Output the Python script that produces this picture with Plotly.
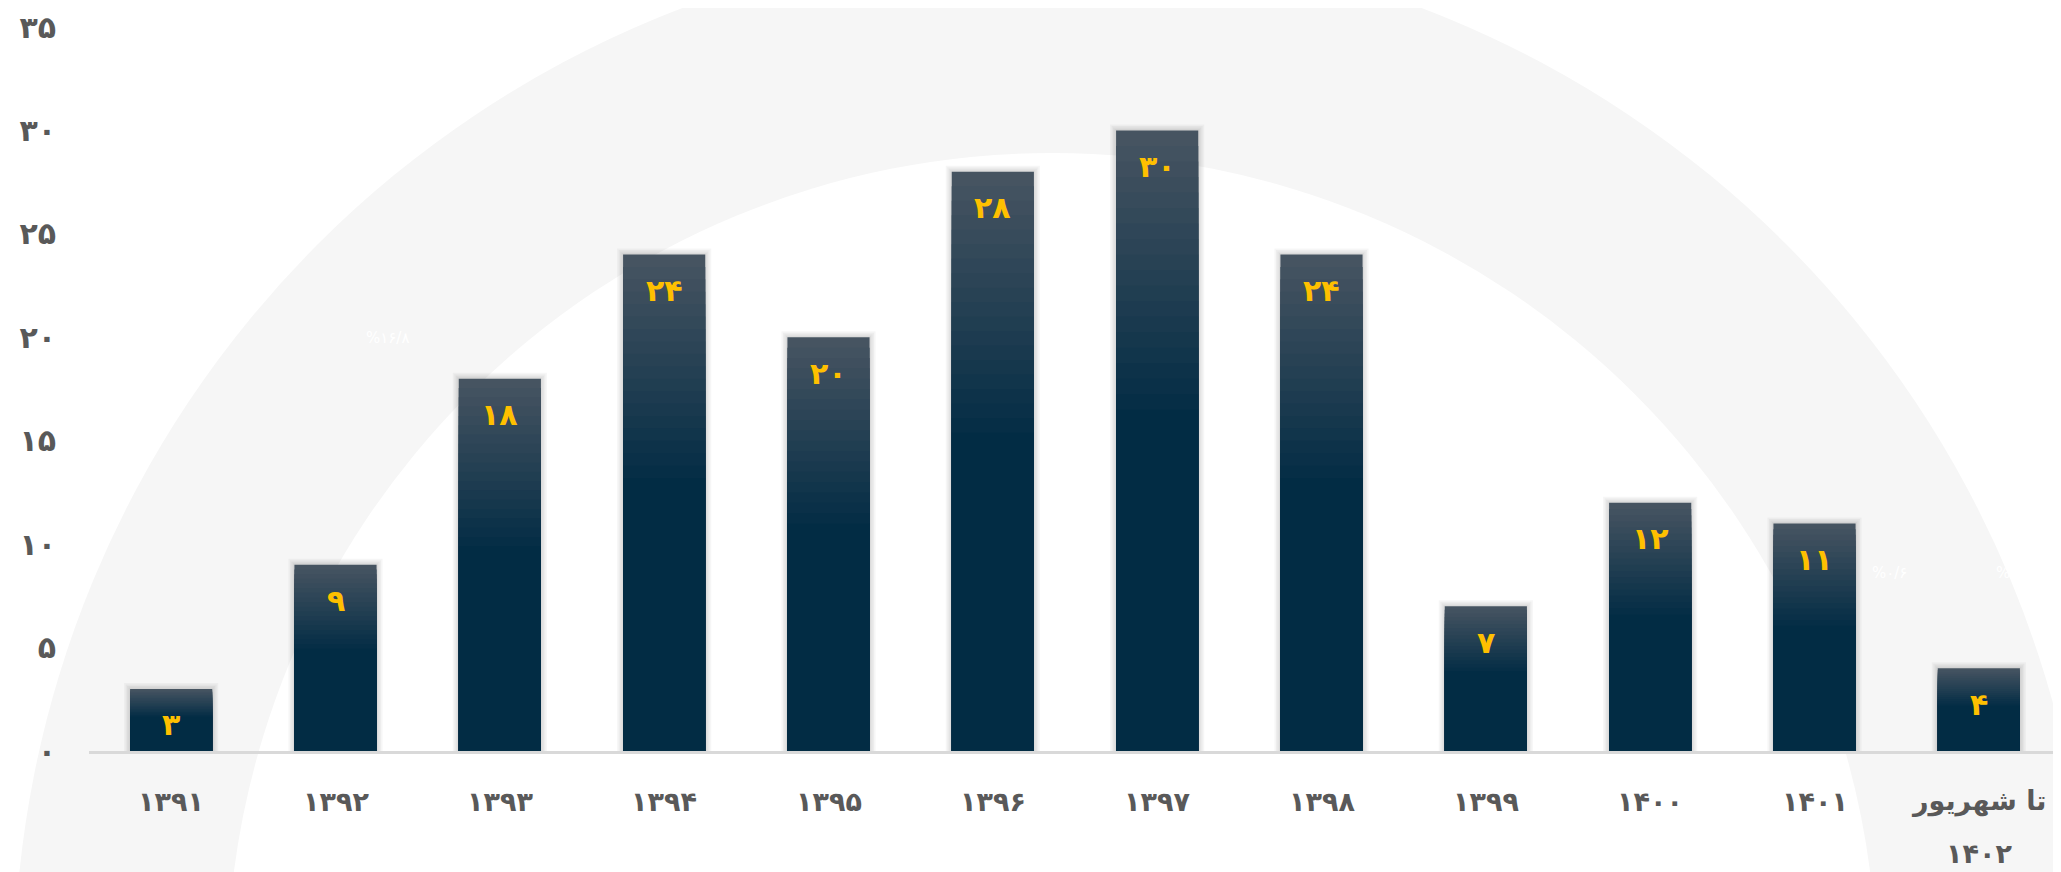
import plotly.graph_objects as go

# data
years = ["۱۳۹۱", "۱۳۹۲", "۱۳۹۳", "۱۳۹۴", "۱۳۹۵", "۱۳۹۶",
         "۱۳۹۷", "۱۳۹۸", "۱۳۹۹", "۱۴۰۰", "۱۴۰۱", "تا شهریور\n۱۴۰۲"]
counts = [3, 9, 18, 24, 20, 28, 30, 24, 7, 12, 11, 4]
y_ticks = [0, 5, 10, 15, 20, 25, 30, 35]

FA = str.maketrans("0123456789", "۰۱۲۳۴۵۶۷۸۹")


def fa(n):
    return str(n).translate(FA)


# the page body adds an 8px margin, so work in page pixels and shift
OFF = 8
PAGE_W, PAGE_H = 2061, 872
plot_left, plot_right, plot_top, plot_bottom = 89, 2061, 27, 751
L, T = plot_left - OFF, plot_top - OFF
PW, PH = plot_right - plot_left, plot_bottom - plot_top
W, H = L + PW, PAGE_H - OFF
B = H - T - PH
FONT = "DejaVu Sans"
GREY = "#595959"
GOLD = "#FFC000"

x_idx = list(range(len(years)))
fig = go.Figure()

# soft shadow around the bars
px_per_cat = PW / len(years)
px_per_unit = PH / 35
for k in (4, 3, 2, 1):
    fig.add_trace(go.Bar(
        x=x_idx, y=[v + k * 1.5 / px_per_unit for v in counts],
        width=0.5 + 2 * k * 1.5 / px_per_cat,
        marker=dict(color="rgba(0,0,0,0.035)", line_width=0),
        hoverinfo="skip", showlegend=False,
    ))


# gradient bars: stacked-down layers from slate top to dark navy
def mix(c1, c2, t):
    return "rgb(%d,%d,%d)" % tuple(round(a + (b - a) * t) for a, b in zip(c1, c2))


top_c, dark_c = (72, 85, 98), (1, 43, 68)
N = 40
GRAD_END = 0.47
for s in range(N):
    frac = s / N  # how far down from the bar top this layer starts
    if frac > GRAD_END:
        break
    col = mix(top_c, dark_c, min((frac + 0.5 / N) / GRAD_END, 1.0))
    fig.add_trace(go.Bar(
        x=x_idx, y=[v * (1 - frac) for v in counts], width=0.5,
        marker=dict(color=col, line_width=0),
        hoverinfo="skip", showlegend=False,
    ))

# value labels inside the bars
for i, v in enumerate(counts):
    fig.add_annotation(x=i, y=v, xref="x", yref="y", text=fa(v), showarrow=False,
                       yshift=-36, font=dict(family=FONT, size=30, color=GOLD, weight="bold"))

# category labels under the axis
for i, lab in enumerate(years):
    for j, line in enumerate(lab.split("\n")):
        fig.add_annotation(x=i, y=0, xref="x", yref="y", text=line, showarrow=False,
                           yshift=-50 - 52 * j, font=dict(family=FONT, size=27, color=GREY, weight="bold"))


# background arc (light grey ring), positions in page pixels
def px_x(p):
    return (p - plot_left) / PW


def px_y(p):
    return (plot_bottom - p) / PH


cx, cy = 1052, 978
for r, col in ((1038, "#f6f6f6"), (825, "#ffffff")):
    fig.add_shape(type="circle", xref="paper", yref="paper", layer="below",
                  x0=px_x(cx - r), x1=px_x(cx + r), y0=px_y(cy + r), y1=px_y(cy - r),
                  fillcolor=col, line_width=0)

# faint leftover percentage labels on the ring
for txt, xp, yp, anchor in (("%۱۶/۸", 387, 338, "center"), ("%۰/۶", 1889, 584, "center"),
                            ("%۰/۲", 1994, 584, "left")):
    fig.add_annotation(x=px_x(xp), y=px_y(yp), xref="paper", yref="paper", text=txt,
                       xanchor=anchor, showarrow=False,
                       font=dict(family=FONT, size=15, color="#ffffff"))

fig.update_layout(
    width=W, height=H,
    margin=dict(l=L, r=0, t=T, b=B),
    barmode="overlay", bargap=0.5,
    paper_bgcolor="#ffffff", plot_bgcolor="rgba(0,0,0,0)",
    showlegend=False,
    xaxis=dict(range=[-0.5, len(years) - 0.5], showticklabels=False, showgrid=False,
               zeroline=False, showline=True, linecolor="#d9d9d9", linewidth=3, ticks=""),
    yaxis=dict(range=[0, 35], tickvals=y_ticks, ticktext=[fa(v) for v in y_ticks],
               showgrid=False, zeroline=False, showline=False, ticks="",
               ticklabelstandoff=32,
               tickfont=dict(family=FONT, size=30, color=GREY, weight="bold")),
)

fig.write_html("out.html")
